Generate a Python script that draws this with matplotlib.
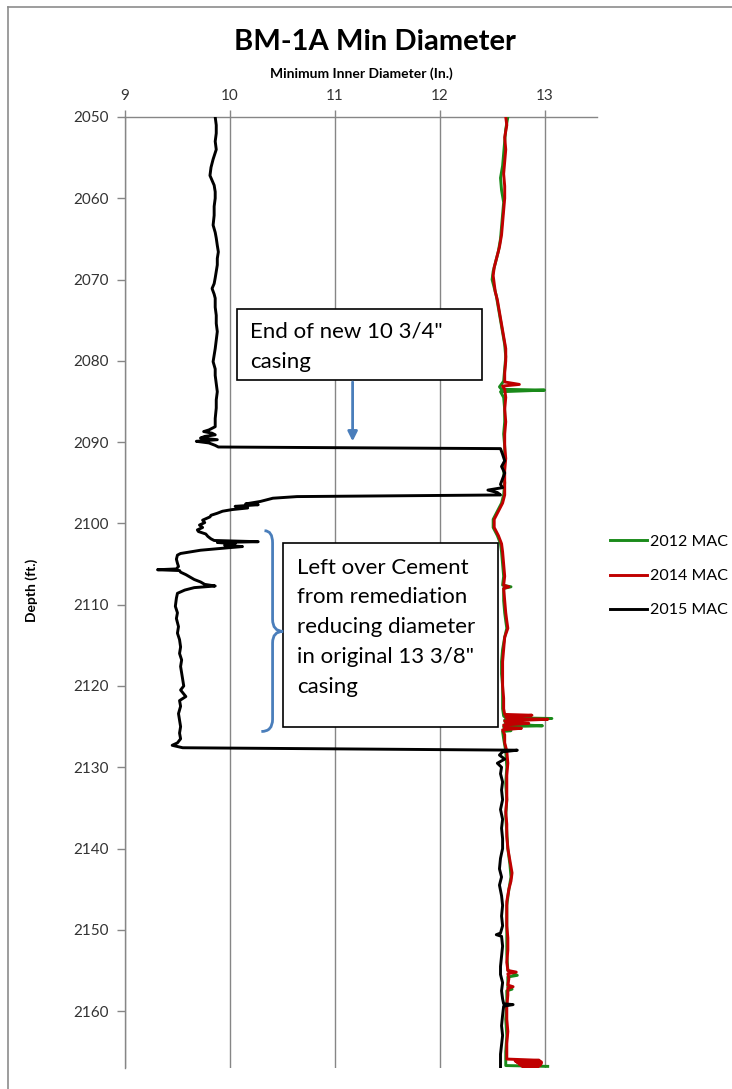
import matplotlib
matplotlib.use("Agg")
import matplotlib.pyplot as plt
from matplotlib.patches import Rectangle, PathPatch
from matplotlib.path import Path
from matplotlib.lines import Line2D

plt.rcParams['font.family'] = ['Lato', 'DejaVu Sans']

# 2012 MAC
green_depth = [2050.0, 2051.5, 2053.0, 2054.5, 2056.0, 2057.5, 2059.0, 2060.5, 2062.0, 2063.5,
               2065.0, 2066.5, 2068.0, 2069.0, 2070.0, 2071.0, 2072.0, 2073.5, 2075.0, 2076.5,
               2078.0, 2079.5, 2081.0, 2082.5, 2083.2, 2083.5, 2083.6, 2083.8, 2084.5, 2086.0,
               2087.5, 2089.0, 2090.5, 2092.0, 2093.5, 2095.0, 2096.5, 2097.5, 2098.5, 2099.5,
               2100.5, 2101.5, 2102.5, 2103.5, 2105.0, 2106.5, 2107.6, 2107.8, 2108.0, 2109.5,
               2111.0, 2112.0, 2112.9, 2114.0, 2115.5, 2117.0, 2118.5, 2120.0, 2121.5, 2122.8,
               2123.7, 2123.9, 2124.0, 2124.2, 2124.7, 2124.9, 2125.0, 2125.4, 2125.5, 2125.6,
               2126.5, 2128.0, 2130.0, 2132.0, 2134.0, 2136.0, 2138.0, 2140.0, 2142.0, 2143.5,
               2145.0, 2147.0, 2149.0, 2151.0, 2153.0, 2155.0, 2155.6, 2155.8, 2157.1, 2157.3,
               2157.5, 2159.0, 2161.0, 2163.0, 2165.0, 2166.7, 2166.8]
green_val = [12.65, 12.63, 12.62, 12.61, 12.60, 12.58, 12.59, 12.61, 12.60, 12.59,
             12.58, 12.56, 12.53, 12.51, 12.50, 12.52, 12.54, 12.56, 12.58, 12.60,
             12.62, 12.63, 12.62, 12.61, 12.57, 12.59, 13.00, 12.58, 12.61, 12.62,
             12.62, 12.61, 12.62, 12.62, 12.61, 12.62, 12.61, 12.59, 12.55, 12.51,
             12.51, 12.55, 12.58, 12.59, 12.60, 12.61, 12.60, 12.68, 12.61, 12.61,
             12.62, 12.63, 12.64, 12.62, 12.60, 12.59, 12.59, 12.60, 12.60, 12.60,
             12.61, 12.63, 13.07, 12.62, 12.63, 12.98, 12.61, 12.62, 12.68, 12.60,
             12.61, 12.63, 12.64, 12.63, 12.64, 12.63, 12.64, 12.65, 12.67, 12.68,
             12.66, 12.64, 12.64, 12.64, 12.64, 12.65, 12.74, 12.65, 12.65, 12.69,
             12.64, 12.64, 12.63, 12.64, 12.63, 12.63, 13.03]

# 2014 MAC
red_depth = [2050.0, 2051.0, 2052.5, 2054.0, 2055.5, 2057.0, 2058.5, 2060.0, 2061.5, 2063.0,
             2064.5, 2066.0, 2067.5, 2068.5, 2069.5, 2070.5, 2071.5, 2072.5, 2074.0, 2075.5,
             2077.0, 2078.5, 2080.0, 2081.5, 2082.6, 2082.9, 2083.1, 2083.5, 2084.5, 2086.0,
             2087.5, 2089.0, 2090.5, 2092.0, 2093.5, 2095.0, 2096.5, 2097.5, 2098.5, 2099.5,
             2100.5, 2101.5, 2102.5, 2103.5, 2105.0, 2106.5, 2107.6, 2107.8, 2108.0, 2109.5,
             2111.0, 2112.0, 2112.9, 2114.0, 2115.5, 2117.0, 2118.5, 2120.0, 2121.5, 2122.8,
             2123.5, 2123.6, 2123.8, 2124.0, 2124.1, 2124.3, 2124.5, 2124.6, 2124.8, 2125.1,
             2125.2, 2125.4, 2126.0, 2127.0, 2128.0, 2129.5, 2131.0, 2132.5, 2134.0, 2135.5,
             2137.0, 2138.5, 2140.0, 2141.5, 2143.0, 2144.0, 2145.0, 2146.5, 2148.0, 2149.5,
             2151.0, 2152.5, 2154.0, 2155.0, 2155.2, 2155.4, 2156.0, 2156.8, 2157.0, 2157.2,
             2158.0, 2159.5, 2161.0, 2162.5, 2164.0, 2165.0, 2165.9, 2166.05, 2166.15, 2166.25,
             2166.35, 2166.45, 2166.55, 2166.65, 2166.75, 2166.85, 2166.95]
red_val = [12.63, 12.64, 12.62, 12.63, 12.62, 12.61, 12.62, 12.62, 12.61, 12.60,
           12.59, 12.57, 12.54, 12.52, 12.51, 12.52, 12.53, 12.55, 12.57, 12.59,
           12.61, 12.63, 12.63, 12.62, 12.62, 12.76, 12.60, 12.62, 12.63, 12.62,
           12.63, 12.62, 12.62, 12.63, 12.62, 12.62, 12.62, 12.60, 12.56, 12.52,
           12.52, 12.56, 12.59, 12.60, 12.61, 12.62, 12.61, 12.66, 12.61, 12.62,
           12.63, 12.64, 12.65, 12.62, 12.61, 12.60, 12.60, 12.60, 12.61, 12.61,
           12.62, 12.88, 12.63, 12.65, 13.03, 12.62, 12.64, 12.85, 12.61, 12.62,
           12.78, 12.60, 12.62, 12.62, 12.64, 12.65, 12.64, 12.64, 12.64, 12.63,
           12.64, 12.64, 12.65, 12.67, 12.69, 12.68, 12.66, 12.64, 12.64, 12.64,
           12.65, 12.65, 12.64, 12.65, 12.73, 12.65, 12.66, 12.65, 12.70, 12.65,
           12.65, 12.64, 12.64, 12.65, 12.64, 12.64, 12.64, 12.95, 12.72, 12.97,
           12.74, 12.97, 12.76, 12.96, 12.78, 12.94, 12.80]

# 2015 MAC
black_depth = [2050.0, 2051.0, 2052.0, 2053.0, 2054.0, 2055.2, 2056.2, 2057.2, 2058.4, 2059.2,
               2060.0, 2061.0, 2062.1, 2063.3, 2064.2, 2064.9, 2065.8, 2066.6, 2067.4, 2068.2,
               2069.0, 2069.8, 2070.5, 2071.1, 2071.8, 2072.3, 2073.4, 2074.4, 2075.4, 2076.4,
               2077.5, 2078.5, 2079.3, 2080.1, 2081.0, 2081.8, 2082.8, 2083.8, 2084.8, 2085.8,
               2087.1, 2088.1, 2088.5, 2088.7, 2088.9, 2089.1, 2089.3, 2089.5, 2089.7, 2089.9,
               2090.1, 2090.4, 2090.6, 2090.8, 2091.5, 2092.3, 2093.0, 2093.8, 2094.5, 2095.2,
               2095.6, 2095.9, 2096.2, 2096.5, 2096.7, 2096.9, 2097.3, 2097.6, 2097.7, 2097.9,
               2098.1, 2098.3, 2098.5, 2098.75, 2099.0, 2099.2, 2099.6, 2099.9, 2100.2, 2100.5,
               2100.8, 2101.0, 2101.3, 2101.6, 2101.9, 2102.1, 2102.25, 2102.35, 2102.5, 2102.7,
               2102.85, 2103.0, 2103.3, 2103.7, 2103.9, 2104.4, 2104.9, 2105.3, 2105.6, 2105.7,
               2105.8, 2106.0, 2106.3, 2106.6, 2106.9, 2107.2, 2107.5, 2107.7, 2107.9, 2108.2,
               2108.6, 2109.2, 2110.2, 2111.0, 2111.7, 2112.7, 2113.5, 2114.3, 2115.2, 2116.0,
               2116.8, 2117.6, 2118.4, 2119.2, 2120.0, 2120.5, 2121.3, 2121.8, 2122.5, 2123.4,
               2124.2, 2125.0, 2125.8, 2126.5, 2127.0, 2127.3, 2127.6, 2127.9, 2128.1, 2128.5,
               2129.0, 2129.5, 2130.0, 2130.8, 2131.8, 2132.8, 2134.0, 2135.2, 2136.4, 2137.5,
               2138.8, 2140.0, 2141.2, 2142.5, 2143.5, 2144.5, 2145.8, 2147.0, 2148.3, 2149.5,
               2150.4, 2150.6, 2150.8, 2152.0, 2153.2, 2154.5, 2155.5, 2156.5, 2157.5, 2158.5,
               2159.1, 2159.2, 2159.4, 2160.5, 2161.8, 2163.0, 2164.2, 2165.3, 2166.2, 2166.9]
black_val = [9.86, 9.87, 9.87, 9.86, 9.87, 9.84, 9.82, 9.81, 9.85, 9.86,
             9.86, 9.85, 9.85, 9.84, 9.86, 9.87, 9.88, 9.89, 9.88, 9.88,
             9.87, 9.86, 9.85, 9.83, 9.85, 9.86, 9.86, 9.87, 9.87, 9.88,
             9.87, 9.86, 9.85, 9.84, 9.86, 9.86, 9.87, 9.88, 9.87, 9.87,
             9.86, 9.86, 9.80, 9.75, 9.83, 9.86, 9.76, 9.72, 9.88, 9.68,
             9.80, 9.86, 9.89, 12.58, 12.60, 12.62, 12.59, 12.62, 12.60, 12.58,
             12.60, 12.46, 12.55, 12.58, 10.64, 10.41, 10.29, 10.15, 10.27, 10.05,
             10.17, 10.02, 9.93, 9.88, 9.82, 9.81, 9.74, 9.76, 9.71, 9.74,
             9.69, 9.70, 9.77, 9.79, 9.82, 9.85, 10.27, 9.88, 10.05, 9.95,
             10.12, 9.98, 9.72, 9.53, 9.50, 9.49, 9.50, 9.51, 9.49, 9.31,
             9.52, 9.53, 9.58, 9.62, 9.66, 9.72, 9.76, 9.86, 9.66, 9.57,
             9.50, 9.49, 9.48, 9.50, 9.49, 9.51, 9.50, 9.52, 9.53, 9.52,
             9.54, 9.53, 9.54, 9.55, 9.56, 9.53, 9.58, 9.52, 9.53, 9.51,
             9.52, 9.53, 9.52, 9.53, 9.50, 9.45, 9.55, 12.74, 12.60, 12.57,
             12.62, 12.55, 12.59, 12.58, 12.60, 12.59, 12.60, 12.58, 12.60, 12.59,
             12.60, 12.60, 12.58, 12.57, 12.59, 12.57, 12.59, 12.60, 12.59, 12.60,
             12.58, 12.54, 12.59, 12.60, 12.59, 12.58, 12.58, 12.60, 12.59, 12.60,
             12.61, 12.70, 12.61, 12.60, 12.59, 12.60, 12.59, 12.58, 12.58, 12.58]

x_ticks = [9, 10, 11, 12, 13]
y_ticks = [2050, 2060, 2070, 2080, 2090, 2100, 2110, 2120, 2130, 2140, 2150, 2160]

grid_col = '#868686'
blue = '#4a7ebb'

fig = plt.figure(figsize=(7.32, 10.89), dpi=100)
ax = fig.add_axes([125/732, 1 - 1068/1089, (597 - 125)/732, (1068 - 117)/1089])

ax.plot(green_val, green_depth, color='#1a8a1a', lw=2.1, zorder=3, label='2012 MAC')
ax.plot(red_val, red_depth, color='#c00000', lw=2.1, zorder=4, label='2014 MAC')
ax.plot(black_val, black_depth, color='black', lw=2.1, zorder=5, label='2015 MAC')

ax.set_xlim(9, 13.5)
ax.set_ylim(2167, 2050)
ax.set_xticks(x_ticks)
ax.set_yticks(y_ticks)
ax.xaxis.tick_top()
ax.xaxis.set_label_position('top')
ax.tick_params(axis='x', direction='out', length=5, width=1, color=grid_col,
               pad=5, labelsize=11, labelcolor='#333333')
ax.tick_params(axis='y', direction='out', length=6, width=1, color=grid_col,
               pad=6, labelsize=11, labelcolor='#333333')
ax.grid(axis='x', color=grid_col, lw=1.0, zorder=0)
ax.set_axisbelow(True)
for s in ['right', 'bottom']:
    ax.spines[s].set_visible(False)
for s in ['top', 'left']:
    ax.spines[s].set_color(grid_col)
    ax.spines[s].set_linewidth(1.0)

ax.set_xlabel('Minimum Inner Diameter (In.)', fontsize=10, fontweight='bold', labelpad=8)
fig.text(32/732, 1 - 590/1089, 'Depth (ft.)', rotation=90, fontsize=10,
         fontweight='bold', ha='center', va='center')
fig.text(375/732, 1 - 42/1089, 'BM-1A Min Diameter', fontsize=21,
         fontweight='bold', ha='center', va='center')

# annotation boxes
ax.add_patch(Rectangle((10.067, 2073.6), 12.4 - 10.067, 2082.3 - 2073.6,
                       facecolor='white', edgecolor='black', lw=1.2, zorder=6))
ax.text(10.19, 2075.2, 'End of new 10 3/4"\ncasing', fontsize=16, va='top', ha='left',
        linespacing=1.62, zorder=7)
ax.annotate('', xy=(11.17, 2089.9), xytext=(11.17, 2082.6),
            arrowprops=dict(arrowstyle='-|>', color=blue, lw=2, mutation_scale=14,
                            shrinkA=0, shrinkB=0), zorder=7)

ax.add_patch(Rectangle((10.505, 2102.4), 12.552 - 10.505, 2125.0 - 2102.4,
                       facecolor='white', edgecolor='black', lw=1.2, zorder=6))
ax.text(10.64, 2104.2, 'Left over Cement\nfrom remediation\nreducing diameter\n'
        'in original 13 3/8"\ncasing', fontsize=16, va='top', ha='left',
        linespacing=1.62, zorder=7)

# curly brace
verts = [(10.33, 2100.9), (10.407, 2100.9), (10.407, 2102.4),
         (10.407, 2111.8),
         (10.407, 2113.28), (10.508, 2113.28),
         (10.407, 2113.28), (10.407, 2114.7),
         (10.407, 2124.1),
         (10.407, 2125.6), (10.30, 2125.6)]
codes = [Path.MOVETO, Path.CURVE3, Path.CURVE3, Path.LINETO, Path.CURVE3, Path.CURVE3,
         Path.CURVE3, Path.CURVE3, Path.LINETO, Path.CURVE3, Path.CURVE3]
ax.add_patch(PathPatch(Path(verts, codes), facecolor='none', edgecolor=blue, lw=2, zorder=7))

handles, labels = ax.get_legend_handles_labels()
fig.legend(handles, labels, loc='center left', bbox_to_anchor=(610/732, 1 - 576/1089),
           frameon=False, fontsize=11.5, handlelength=2.3, handletextpad=0.2,
           labelspacing=1.25, borderpad=0, borderaxespad=0)

# chart area border
fig.add_artist(Line2D([8/732, 8/732], [0, 1 - 7/1089], color='#8c8c8c', lw=1.2))
fig.add_artist(Line2D([8/732, 1], [1 - 7/1089, 1 - 7/1089], color='#8c8c8c', lw=1.2))

fig.savefig('out.png', dpi=100)
